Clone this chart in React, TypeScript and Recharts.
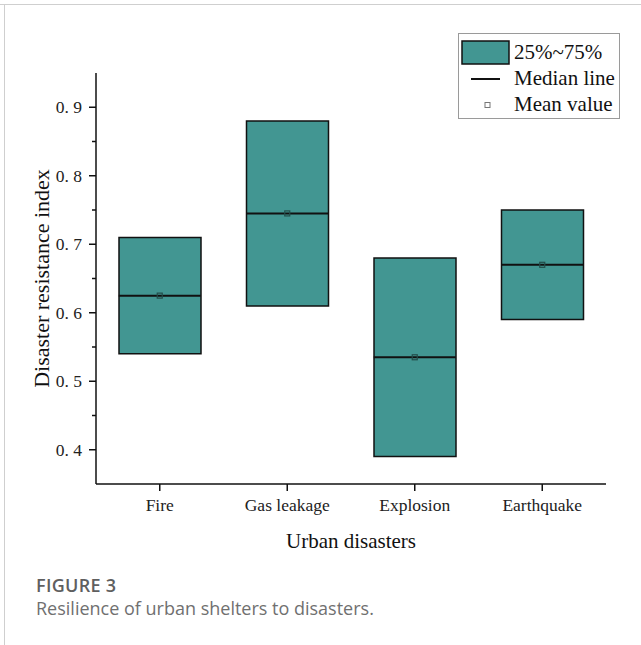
import React from 'react';
import { ComposedChart, Bar, Scatter, XAxis, YAxis, Legend } from 'recharts';

const categories = ['Fire', 'Gas leakage', 'Explosion', 'Earthquake'];
const q1Values = [0.54, 0.61, 0.39, 0.59];
const q3Values = [0.71, 0.88, 0.68, 0.75];
const medianValues = [0.625, 0.745, 0.535, 0.67];
const meanValues = [0.625, 0.745, 0.535, 0.67];
const yTicks = [0.4, 0.45, 0.5, 0.55, 0.6, 0.65, 0.7, 0.75, 0.8, 0.85, 0.9];
const majorTicks = [0.4, 0.5, 0.6, 0.7, 0.8, 0.9];

const data = categories.map((name, i) => ({
  name,
  box: [q1Values[i], q3Values[i]],
  median: medianValues[i],
  mean: meanValues[i],
}));

const FILL = '#429692';
const SERIF = '"Liberation Serif", "Times New Roman", serif';
const TICK_SIZE = 7;
const TICK_MARGIN = 7;
const BOX_W = 82;

const YTick = (props: any) => {
  const { x, y, payload } = props;
  const v = payload.value;
  const isMajor = majorTicks.some((m) => Math.abs(m - v) < 1e-6);
  const axisX = x + TICK_SIZE + TICK_MARGIN;
  return (
    <g>
      <line x1={axisX} x2={axisX - (isMajor ? 7 : 4)} y1={y} y2={y} stroke="#111" strokeWidth={1.5} />
      {isMajor && (
        <text x={x} y={y} dy="0.35em" textAnchor="end" fontFamily={SERIF} fontSize={17.5} fill="#222">
          {v.toFixed(1).replace('.', '. ')}
        </text>
      )}
    </g>
  );
};

const MedianShape = (props: any) => {
  const { cx, cy } = props;
  return <line x1={cx - BOX_W / 2} x2={cx + BOX_W / 2} y1={cy} y2={cy} stroke="#111" strokeWidth={2} />;
};

const MeanShape = (props: any) => {
  const { cx, cy } = props;
  return <rect x={cx - 2.5} y={cy - 2.5} width={5} height={5} fill="none" stroke="#234e4b" strokeWidth={1.2} />;
};

const LegendContent = () => (
  <div
    style={{
      width: 162,
      height: 86,
      border: '1px solid #9a9a9a',
      background: '#fff',
      fontFamily: SERIF,
      fontSize: 21,
      color: '#111',
      boxSizing: 'border-box',
      position: 'relative',
    }}
  >
    <svg width={162} height={86} style={{ position: 'absolute', left: -1, top: -1 }}>
      <rect x={4} y={8} width={47} height={23} fill={FILL} stroke="#111" strokeWidth={1.5} />
      <line x1={13} x2={42} y1={46} y2={46} stroke="#111" strokeWidth={2} />
      <rect x={27} y={69.5} width={5} height={5} fill="none" stroke="#777" strokeWidth={1} />
    </svg>
    <div style={{ position: 'absolute', left: 55, top: 5, lineHeight: '26px', whiteSpace: 'nowrap' }}>
      <div>25%~75%</div>
      <div>Median line</div>
      <div>Mean value</div>
    </div>
  </div>
);

export default function App() {
  return (
    <div style={{ position: 'absolute', left: 0, top: 0, width: 641, height: 645, background: '#fff', overflow: 'hidden' }}>
      <div style={{ position: 'absolute', left: 0, top: 4, width: 641, height: 1, background: '#cfcfcf' }} />
      <div style={{ position: 'absolute', left: 4, top: 4, width: 1, height: 641, background: '#cfcfcf' }} />
      <div style={{ position: 'absolute', left: 0, top: 0 }}>
        <ComposedChart
          width={641}
          height={645}
          data={data}
          margin={{ top: 73, right: 35, left: 20, bottom: 101 }}
        >
          <XAxis
            dataKey="name"
            type="category"
            axisLine={{ stroke: '#111', strokeWidth: 1.5 }}
            tickLine={{ stroke: '#111', strokeWidth: 1.5 }}
            tickSize={7}
            tickMargin={8}
            height={60}
            interval={0}
            tick={{ fontFamily: SERIF, fontSize: 17.5, fill: '#222' }}
            label={{
              content: (p: any) => {
                const vb = p.viewBox;
                return (
                  <text x={vb.x + vb.width / 2} y={vb.y + 64} textAnchor="middle" fontFamily={SERIF} fontSize={21} fill="#111">
                    Urban disasters
                  </text>
                );
              },
            }}
          />
          <YAxis
            type="number"
            domain={[0.35, 0.95]}
            ticks={yTicks}
            interval={0}
            width={76}
            axisLine={{ stroke: '#111', strokeWidth: 1.5 }}
            tickLine={false}
            tickSize={TICK_SIZE}
            tickMargin={TICK_MARGIN}
            tick={<YTick />}
            allowDataOverflow
            label={{
              content: (p: any) => {
                const vb = p.viewBox;
                const cx = vb.x + 21;
                const cy = vb.y + vb.height / 2;
                return (
                  <text
                    x={cx}
                    y={cy}
                    dy="0.35em"
                    textAnchor="middle"
                    transform={`rotate(-90, ${cx}, ${cy})`}
                    fontFamily={SERIF}
                    fontSize={22}
                    fill="#111"
                  >
                    Disaster resistance index
                  </text>
                );
              },
            }}
          />
          <Legend
            verticalAlign="middle"
            align="center"
            layout="vertical"
            content={<LegendContent />}
            wrapperStyle={{ position: 'absolute', left: 458, top: 33, width: 162, height: 86 }}
          />
          <Bar dataKey="box" fill={FILL} stroke="#111" strokeWidth={1.5} barSize={BOX_W} isAnimationActive={false} />
          <Scatter dataKey="median" shape={<MedianShape />} isAnimationActive={false} />
          <Scatter dataKey="mean" shape={<MeanShape />} isAnimationActive={false} />
        </ComposedChart>
      </div>
      <div
        style={{
          position: 'absolute',
          left: 36,
          top: 576,
          fontFamily: '"Open Sans", sans-serif',
          fontSize: 18,
          lineHeight: '18px',
          fontWeight: 600,
          color: '#5f5f5f',
          letterSpacing: 0.3,
          whiteSpace: 'nowrap',
        }}
      >
        FIGURE 3
      </div>
      <div
        style={{
          position: 'absolute',
          left: 36,
          top: 599,
          fontFamily: '"Open Sans", sans-serif',
          fontSize: 18,
          lineHeight: '18px',
          color: '#707070',
          whiteSpace: 'nowrap',
        }}
      >
        Resilience of urban shelters to disasters.
      </div>
    </div>
  );
}
